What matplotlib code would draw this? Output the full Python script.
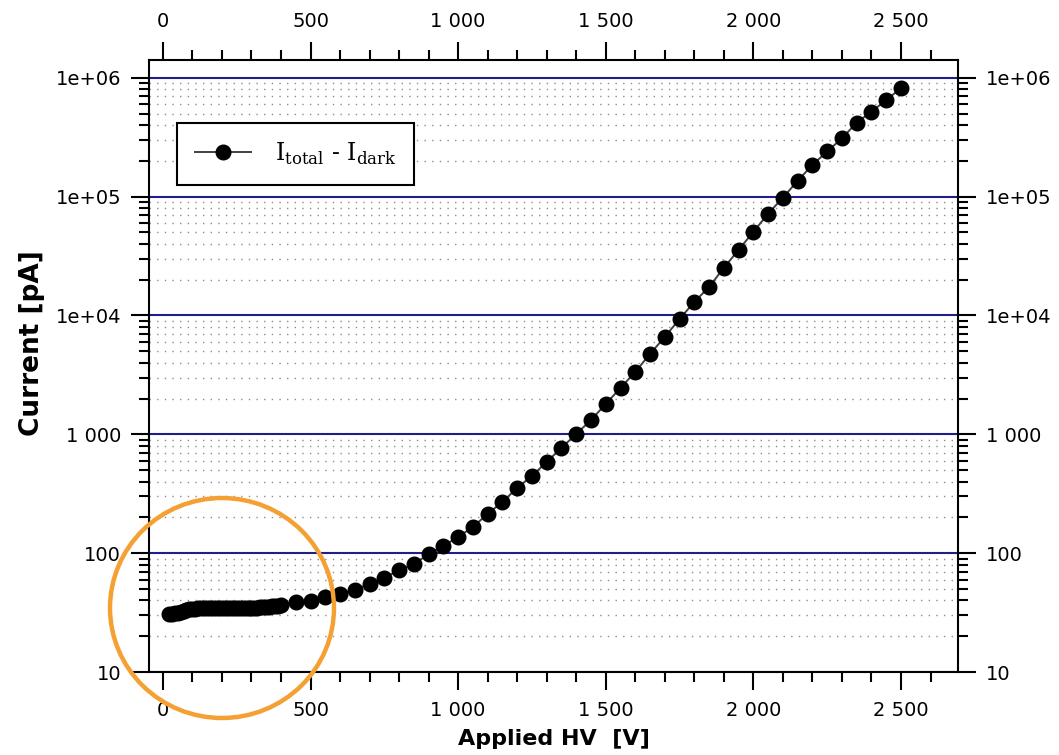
# Librerías a usar
import numpy as np
import matplotlib.pyplot as plt
from matplotlib.patches import Ellipse
from matplotlib.ticker import MultipleLocator, LogLocator, NullFormatter

# DATOS
# Voltaje aplicado [V]
voltaje = [20, 30, 40, 50, 60, 70, 80, 90, 100, 110, 120, 130, 140, 150,
           160, 170, 180, 190, 200, 210, 220, 230, 240, 250, 260, 270, 280,
           290, 300, 310, 320, 330, 340, 350, 360, 370, 380, 390, 400,
           450, 500, 550, 600, 650, 700, 750, 800, 850, 900, 950, 1000,
           1050, 1100, 1150, 1200, 1250, 1300, 1350, 1400, 1450, 1500,
           1550, 1600, 1650, 1700, 1750, 1800, 1850, 1900, 1950, 2000,
           2050, 2100, 2150, 2200, 2250, 2300, 2350, 2400, 2450, 2500]
# Corriente I_total - I_dark [pA]
corriente = [31.0, 31.0, 31.2, 31.5, 32.0, 32.5, 33.2, 33.8, 34.1, 34.2,
             34.3, 34.3, 34.3, 34.4, 34.4, 34.4, 34.4, 34.4, 34.4, 34.4,
             34.4, 34.4, 34.4, 34.5, 34.5, 34.5, 34.5, 34.5, 34.5, 34.6,
             34.8, 34.9, 35.0, 35.2, 35.4, 35.6, 35.8, 36.1, 36.4,
             38.5, 39.8, 42.8, 45.5, 49, 55, 62, 72, 81, 98, 115, 137,
             166, 214, 270, 354, 447, 586, 769, 1007, 1321, 1800,
             2460, 3350, 4750, 6600, 9350, 13000, 17400, 25200, 35700, 50600,
             72000, 98000, 136000, 185000, 240000, 310000, 420000, 520000,
             650000, 820000]

# Marcas de los ejes
x_ticks = [0, 500, 1000, 1500, 2000, 2500]
x_etiquetas = ["0", "500", "1 000", "1 500", "2 000", "2 500"]
y_ticks = [10, 100, 1000, 1e4, 1e5, 1e6]
y_etiquetas = ["10", "100", "1 000", "1e+04", "1e+05", "1e+06"]

# GRAFICACIÓN
fig = plt.figure(figsize=(10.59, 7.55), dpi=100)
ax = fig.add_axes([149 / 1059, 1 - 672 / 755, 809 / 1059, 612 / 755])

ax.set_yscale("log")
ax.set_xlim(-47, 2693)
ax.set_ylim(10, 10 ** 6.15)

ax.plot(voltaje, corriente, color="#404040", lw=1.4, marker="o", ms=10.5,
        mfc="black", mec="black", zorder=3,
        label=r"I$_{\mathregular{total}}$ - I$_{\mathregular{dark}}$")

# Rejilla horizontal
ax.set_axisbelow(True)
ax.yaxis.grid(True, which="major", color="#1e1e8c", lw=1.5, ls="-")
ax.yaxis.grid(True, which="minor", color="#8c8c8c", lw=1, ls=(0, (1, 4.5)))

# Marcas
ax.set_xticks(x_ticks, x_etiquetas)
ax.xaxis.set_minor_locator(MultipleLocator(100))
ax.set_yticks(y_ticks, y_etiquetas)
ax.yaxis.set_minor_locator(LogLocator(base=10, subs=np.arange(2, 10)))
ax.yaxis.set_minor_formatter(NullFormatter())

ax.tick_params(which="both", direction="out", top=True, right=True,
               labeltop=True, labelright=True, width=1.5, labelsize=14)
ax.tick_params(which="major", length=13)
ax.tick_params(which="minor", length=7.5)
ax.tick_params(axis="x", pad=8)
ax.tick_params(axis="y", pad=7)
for s in ax.spines.values():
    s.set_linewidth(1.5)

# Etiquetas
ax.set_xlabel("Applied HV  [V]", fontsize=16, fontweight="bold")
ax.xaxis.set_label_coords(0.5, -0.093)
ax.set_ylabel("Current [pA]", fontsize=19, fontweight="bold")
ax.yaxis.set_label_coords(-0.128, 0.538)

# Leyenda
leg = ax.legend(loc="upper left", bbox_to_anchor=(0.0346, 0.897),
                borderaxespad=0, fancybox=False, edgecolor="black",
                framealpha=1, handlelength=2.4, handletextpad=1.0,
                borderpad=0.75, prop={"family": "DejaVu Serif", "size": 17})
leg.get_frame().set_linewidth(1.5)

# Círculo naranja de resaltado
circulo = Ellipse((222 / 1059, 1 - 608 / 755), 224 / 1059, 220 / 755,
                  transform=fig.transFigure, fill=False, ec="#f5a033",
                  lw=3.2, clip_on=False, zorder=10)
fig.add_artist(circulo)

fig.savefig("out.png", dpi=100)
